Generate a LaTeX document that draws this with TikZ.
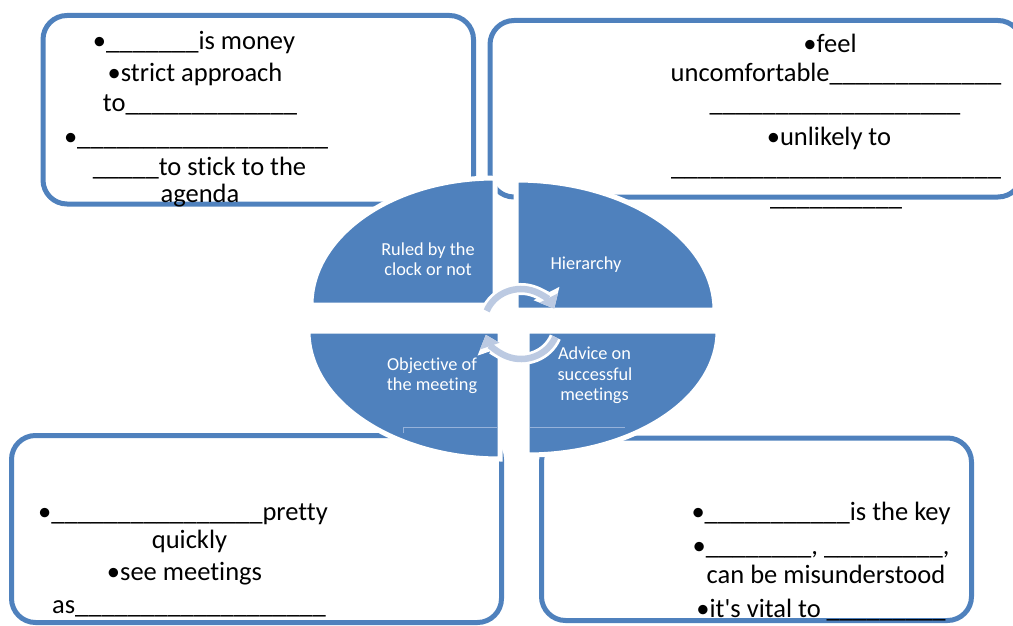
\documentclass[tikz,border=0pt]{standalone}
\usepackage{fontspec}
\setmainfont{Carlito}[Ligatures={TeX,NoCommon}]
\usetikzlibrary{arrows.meta}
\definecolor{accent}{RGB}{79,129,189}
\definecolor{cyclearrow}{RGB}{188,202,226}
\definecolor{seam}{RGB}{150,178,218}
% a run of n underscores for the fill-in blanks
\newcommand\fillin[1]{\ifnum#1>0 \textunderscore\expandafter\fillin\expandafter{\the\numexpr#1-1\relax}\fi}
\begin{document}
\begin{tikzpicture}[x=1pt,y=-1pt,
  panel/.style={draw=accent, line width=5pt, rounded corners=24pt},
  boxtext/.style={anchor=base, inner sep=0pt, font=\fontsize{26.5}{30}\selectfont, text=black},
  quad/.style={fill=accent, draw=white, line width=5pt},
  quadtext/.style={anchor=base, inner sep=0pt, font=\fontsize{18.3}{20}\selectfont, text=white},
  halo/.style={white, line width=12pt, -{Triangle[width=28pt,length=17pt]}},
  cycarrow/.style={cyclearrow, line width=6.5pt, -{Triangle[width=20pt,length=12pt]}}]
\useasboundingbox (0,0) rectangle (1013,626);
\clip (0,0) rectangle (1013,626);

% four framed panels
\draw[panel] (43,15.5) rectangle (473.5,204);
\draw[panel] (490,20.5) rectangle (1022,197);
\draw[panel] (11.5,435.5) rectangle (501.5,622.5);
\draw[panel] (541.5,438) rectangle (971.5,620.5);

% panel texts
\node[boxtext] (tl1) at (194,50) {•\fillin{7}is money};
\node[boxtext] (tl2) at (195,82) {•strict approach};
\node[boxtext] (tl3) at (200,112) {to\fillin{13}};
\node[boxtext] (tl4) at (196,145) {•\fillin{19}};
\node[boxtext] (tl5) at (199.5,175) {\fillin{5}to stick to the};
\node[boxtext] (tl6) at (200,202) {agenda};

\node[boxtext] (tr1) at (830,53) {•feel};
\node[boxtext] (tr2) at (836,82) {uncomfortable\fillin{13}};
\node[boxtext] (tr3) at (835,112) {\fillin{19}};
\node[boxtext] (tr4) at (829,146) {•unlikely to};
\node[boxtext] (tr5) at (836,175) {\fillin{25}};
\node[boxtext] (tr6) at (836,205) {\fillin{10}};

\node[boxtext] (bl1) at (183,520) {•\fillin{16}pretty};
\node[boxtext] (bl2) at (189.5,548) {quickly};
\node[boxtext] (bl3) at (184.5,580) {•see meetings};
\node[boxtext] (bl4) at (189,613) {as\fillin{19}};

\node[boxtext] (br1) at (821,520) {•\fillin{11}is the key};
\node[boxtext] (br2) at (821,554) {•\fillin{8}, \fillin{9},};
\node[boxtext] (br3) at (826,583) {can be misunderstood};
\node[boxtext] (br4) at (821,617) {•it\textquotesingle s vital to \fillin{9}};

% the split ellipse: four quarter pieces
\path[quad] (495,305) -- ++(-184,0) arc[start angle=180, end angle=270, x radius=184, y radius=127] -- cycle;
\path[quad] (516,310) -- ++(0,-130) arc[start angle=270, end angle=360, x radius=199, y radius=130] -- cycle;
\path[quad] (500,331) -- ++(-192,0) arc[start angle=180, end angle=90, x radius=192, y radius=128] -- cycle;
\path[quad] (527,331) -- ++(191,0) arc[start angle=0, end angle=90, x radius=191, y radius=124] -- cycle;

% faint seam across the lower pieces
\draw[seam, line width=1pt] (403,433) -- (403,427) -- (497,427);
\draw[seam, line width=1pt] (530,427) -- (625,427);

% circular arrows in the middle
\coordinate (hub) at (521,324);
\draw[halo] ([shift={(-158:37 and 35)}]hub) arc[start angle=-158, end angle=-26, x radius=37, y radius=35];
\draw[cycarrow] ([shift={(-158:37 and 35)}]hub) arc[start angle=-158, end angle=-26, x radius=37, y radius=35];
\draw[halo] ([shift={(22:37 and 35)}]hub) arc[start angle=22, end angle=162, x radius=37, y radius=35];
\draw[cycarrow] ([shift={(22:37 and 35)}]hub) arc[start angle=22, end angle=162, x radius=37, y radius=35];

% labels of the four pieces
\node[quadtext] (q1a) at (428,255) {Ruled by the};
\node[quadtext] (q1b) at (428,275) {clock or not};
\node[quadtext] (q2) at (586,269) {Hierarchy};
\node[quadtext] (q3a) at (432,370) {Objective of};
\node[quadtext] (q3b) at (432,390) {the meeting};
\node[quadtext] (q4a) at (594.5,359) {Advice on};
\node[quadtext] (q4b) at (595,380) {successful};
\node[quadtext] (q4c) at (594.5,400) {meetings};
\end{tikzpicture}
\end{document}
